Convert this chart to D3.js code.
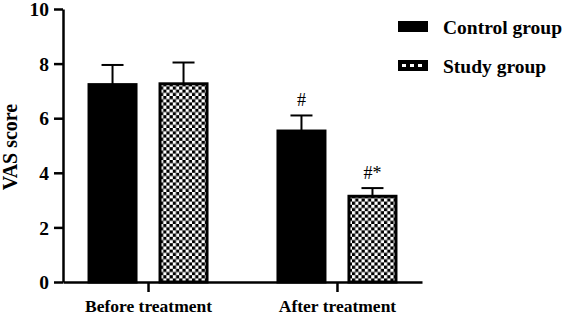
<!DOCTYPE html>
<html>
<head>
<meta charset="utf-8">
<script src="https://cdn.jsdelivr.net/npm/d3@7"></script>
<style>
  html, body { margin: 0; padding: 0; background: #fff; }
  svg text { font-family: "Liberation Serif", "Times New Roman", serif; font-weight: bold; fill: #000; }
</style>
</head>
<body>
<div id="chart"></div>
<script>
    "use strict";
    // chart values
    var categories = ["Before treatment", "After treatment"];
    var groups = ["Control group", "Study group"];
    var controlMeans = [7.23, 5.53];
    var controlErr = [0.72, 0.57];
    var studyMeans = [7.26, 3.14];
    var studyErr = [0.78, 0.30];
    var controlMarks = ["", "#"];
    var studyMarks = ["", "#*"];
    var yTicks = [0, 2, 4, 6, 8, 10];

    var width = 566, height = 317;
    var axisX = 63, axisRight = 422, y0 = 282, yTop = 9;

    var rows = [];
    categories.forEach(function (c, i) {
        rows.push({cat: c, group: groups[0], mean: controlMeans[i], err: controlErr[i], mark: controlMarks[i]});
        rows.push({cat: c, group: groups[1], mean: studyMeans[i], err: studyErr[i], mark: studyMarks[i]});
    });

    var svg = d3.select("#chart").append("svg")
        .attr("xmlns", "http://www.w3.org/2000/svg")
        .attr("width", width)
        .attr("height", height);

    // checkerboard fill for the study group
    var defs = svg.append("defs");
    var pat = defs.append("pattern")
        .attr("id", "checks")
        .attr("patternUnits", "userSpaceOnUse")
        .attr("width", 6.4)
        .attr("height", 6.4);
    pat.append("rect").attr("width", 6.4).attr("height", 6.4).attr("fill", "#000");
    pat.append("rect").attr("width", 3.2).attr("height", 3.2).attr("fill", "#fff");
    pat.append("rect").attr("x", 3.2).attr("y", 3.2).attr("width", 3.2).attr("height", 3.2).attr("fill", "#fff");

    var fills = {"Control group": "#000", "Study group": "url(#checks)"};

    var y = d3.scaleLinear().domain([0, 10]).range([y0, yTop]);
    var x0 = d3.scalePoint().domain(categories).range([axisX, axisRight]).padding(0.45);
    var x1 = d3.scaleBand().domain(groups).range([-59, 59]).paddingInner(0.338);

    // bars
    svg.append("g").selectAll("rect.bar")
        .data(rows)
        .enter()
        .append("rect")
        .attr("class", "bar")
        .attr("x", function (d) { return x0(d.cat) + x1(d.group); })
        .attr("y", function (d) { return y(d.mean); })
        .attr("width", x1.bandwidth())
        .attr("height", function (d) { return y(0) - y(d.mean); })
        .attr("fill", function (d) { return fills[d.group]; })
        .attr("stroke", "#000")
        .attr("stroke-width", 3);

    // error bars (upper only)
    var errG = svg.append("g").attr("stroke", "#000").attr("stroke-width", 2);
    rows.forEach(function (d) {
        var cx = x0(d.cat) + x1(d.group) + x1.bandwidth() / 2;
        errG.append("line")
            .attr("x1", cx).attr("x2", cx)
            .attr("y1", y(d.mean)).attr("y2", y(d.mean + d.err));
        errG.append("line")
            .attr("x1", cx - 11).attr("x2", cx + 11)
            .attr("y1", y(d.mean + d.err)).attr("y2", y(d.mean + d.err));
        if (d.mark) {
            svg.append("text")
                .attr("x", cx)
                .attr("y", y(d.mean + d.err) - 9)
                .attr("text-anchor", "middle")
                .style("font-size", "18px")
                .style("font-weight", "normal")
                .text(d.mark);
        }
    });

    // y axis
    var yAxis = d3.axisLeft(y).tickValues(yTicks).tickSize(9).tickPadding(5).tickSizeOuter(0);
    var gy = svg.append("g").attr("transform", "translate(" + axisX + ",0)").call(yAxis);
    gy.select(".domain").attr("stroke-width", 2.5);
    gy.selectAll(".tick line").attr("stroke-width", 2.5);
    gy.selectAll(".tick text").style("font-size", "19.5px").attr("dy", "0.34em");

    // x axis
    var xAxis = d3.axisBottom(x0).tickSize(10).tickPadding(8).tickSizeOuter(0);
    var gx = svg.append("g").attr("transform", "translate(0," + y0 + ")").call(xAxis);
    gx.select(".domain").attr("stroke-width", 2.5);
    gx.selectAll(".tick line").attr("stroke-width", 2.5);
    gx.selectAll(".tick text").style("font-size", "17.5px");

    // y title
    svg.append("text")
        .attr("transform", "translate(17,147) rotate(-90)")
        .attr("text-anchor", "middle")
        .style("font-size", "20px")
        .text("VAS score");

    // legend
    var legend = svg.append("g");
    groups.forEach(function (g, i) {
        var ly = 21 + i * 39;
        legend.append("rect")
            .attr("x", 398).attr("y", ly)
            .attr("width", 30).attr("height", 11)
            .attr("fill", "#000");
        if (i === 1) {
            [402, 410, 418].forEach(function (sx) {
                legend.append("rect")
                    .attr("x", sx).attr("y", ly + 4)
                    .attr("width", 4).attr("height", 3)
                    .attr("fill", "#fff");
            });
        }
        legend.append("text")
            .attr("x", 443).attr("y", ly + 6)
            .attr("dy", "0.35em")
            .style("font-size", "19.5px")
            .text(g);
    });
</script>
</body>
</html>
